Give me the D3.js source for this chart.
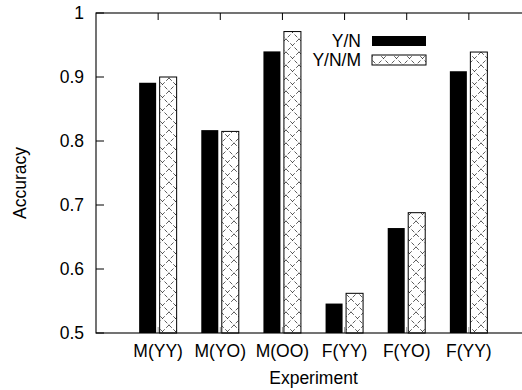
<!DOCTYPE html>
<html>
<head>
<meta charset="utf-8">
<script src="https://cdn.jsdelivr.net/npm/d3@7"></script>
<style>
  body { margin: 0; background: #fff; }
  svg text { font-family: "Liberation Sans", Arial, sans-serif; fill: #000; }
</style>
</head>
<body>
<div id="chart"></div>
<script>
// data
const experiments = ["M(YY)", "M(YO)", "M(OO)", "F(YY)", "F(YO)", "F(YY)"];
const seriesNames = ["Y/N", "Y/N/M"];
const accYN  = [0.891, 0.817, 0.940, 0.546, 0.664, 0.909];
const accYNM = [0.900, 0.815, 0.971, 0.562, 0.688, 0.939];
const yTicks = [0.5, 0.6, 0.7, 0.8, 0.9, 1];

const W = 522, H = 390;
const plotL = 96, plotT = 13, plotB = 333, plotR = 531;

const svg = d3.select("#chart").append("svg")
    .attr("width", W).attr("height", H);

const defs = svg.append("defs");
const pat = defs.append("pattern")
    .attr("id", "xhatch")
    .attr("patternUnits", "userSpaceOnUse")
    .attr("width", 13).attr("height", 13);
pat.append("rect").attr("width", 13).attr("height", 13).attr("fill", "#fff");
pat.append("path")
    .attr("d", "M0,0L13,13M13,0L0,13")
    .attr("stroke", "#333").attr("stroke-width", 0.8)
    .attr("stroke-dasharray", "4,2");

// gnuplot style: categories at 0..5, xrange [-1:6]
const x = d3.scaleLinear().domain([-1, 6]).range([plotL, plotR]);
const y = d3.scaleLinear().domain([0.5, 1]).range([plotB, plotT]);

const g = svg.append("g");

const rows = experiments.map((e, i) => ({ i, e, a: accYN[i], b: accYNM[i] }));

g.selectAll("rect.yn").data(rows).enter().append("rect")
    .attr("class", "yn")
    .attr("x", d => x(d.i) - 19)
    .attr("width", 17)
    .attr("y", d => y(d.a))
    .attr("height", d => y(0.5) - y(d.a))
    .attr("fill", "#000");

g.selectAll("rect.ynm").data(rows).enter().append("rect")
    .attr("class", "ynm")
    .attr("x", d => x(d.i) + 1.5)
    .attr("width", 17)
    .attr("y", d => y(d.b))
    .attr("height", d => y(0.5) - y(d.b))
    .attr("fill", "url(#xhatch)")
    .attr("stroke", "#000").attr("stroke-width", 1);

// small bottom ticks between the bars
g.selectAll("line.bt").data(rows).enter().append("line")
    .attr("x1", d => x(d.i)).attr("x2", d => x(d.i))
    .attr("y1", plotB).attr("y2", plotB - 6)
    .attr("stroke", "#999").attr("stroke-width", 1);

// top ticks
g.selectAll("line.tt").data(rows).enter().append("line")
    .attr("x1", d => x(d.i)).attr("x2", d => x(d.i))
    .attr("y1", plotT).attr("y2", plotT + 7)
    .attr("stroke", "#000").attr("stroke-width", 1);

// left / right y ticks
g.selectAll("line.lt").data(yTicks).enter().append("line")
    .attr("x1", plotL).attr("x2", plotL + 8)
    .attr("y1", d => y(d)).attr("y2", d => y(d))
    .attr("stroke", "#000").attr("stroke-width", 1);
g.selectAll("line.rt").data(yTicks).enter().append("line")
    .attr("x1", plotR).attr("x2", plotR - 9)
    .attr("y1", d => y(d)).attr("y2", d => y(d))
    .attr("stroke", "#000").attr("stroke-width", 1);

// frame
g.append("rect")
    .attr("x", plotL).attr("y", plotT)
    .attr("width", plotR - plotL).attr("height", plotB - plotT)
    .attr("fill", "none").attr("stroke", "#000").attr("stroke-width", 1.1);

// y tick labels
g.selectAll("text.yl").data(yTicks).enter().append("text")
    .attr("x", 84).attr("y", d => y(d))
    .attr("dy", "0.36em")
    .attr("text-anchor", "end")
    .attr("font-size", 17.5)
    .text(d => d === 1 ? "1" : d3.format(".1f")(d));

// x tick labels
g.selectAll("text.xl").data(rows).enter().append("text")
    .attr("x", d => x(d.i)).attr("y", 357)
    .attr("text-anchor", "middle")
    .attr("font-size", 17.5)
    .text(d => d.e);

svg.append("text")
    .attr("x", x(2.5)).attr("y", 384)
    .attr("text-anchor", "middle")
    .attr("font-size", 17.5)
    .text("Experiment");

svg.append("text")
    .attr("transform", "translate(26,183) rotate(-90)")
    .attr("text-anchor", "middle")
    .attr("font-size", 17.5)
    .text("Accuracy");

// legend
const leg = svg.append("g");
seriesNames.forEach((name, k) => {
    const cy = 41 + k * 19;
    leg.append("text")
        .attr("x", 361).attr("y", cy).attr("dy", "0.36em")
        .attr("text-anchor", "end")
        .attr("font-size", 17.5)
        .text(name);
    leg.append("rect")
        .attr("x", 372).attr("y", cy - 5)
        .attr("width", 54).attr("height", 10)
        .attr("fill", k === 0 ? "#000" : "url(#xhatch)")
        .attr("stroke", "#000").attr("stroke-width", k === 0 ? 0 : 1);
});
</script>
</body>
</html>
